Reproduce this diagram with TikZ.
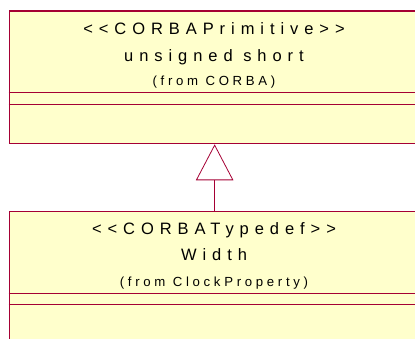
\documentclass[tikz,border=0pt]{standalone}
\usepackage{fontspec}
\setmainfont{Liberation Sans}[LetterSpace=36, Ligatures=TeXOff]
\usetikzlibrary{arrows.meta}

\definecolor{roseline}{HTML}{A50034}
\definecolor{rosefill}{HTML}{FFFFCC}

\tikzset{
  classbox/.style={draw=roseline, fill=rosefill, line width=1.3pt,
    rectangle, anchor=north west, minimum width=411pt, minimum height=132.5pt,
    inner sep=0pt},
  stereo/.style={anchor=base, inner sep=0pt, font=\fontsize{16.5}{18}\selectfont},
  pkg/.style={anchor=base, inner sep=0pt,
    font=\fontsize{13.2}{15}\selectfont\addfontfeature{LetterSpace=28}},
  compart/.style={draw=roseline, line width=0.8pt},
  inherit/.style={draw=roseline, line width=0.8pt,
    -{Triangle[open, length=36pt, width=37.5pt, line width=0.8pt]}}
}

\begin{document}
\begin{tikzpicture}[x=1pt, y=-1pt]
\useasboundingbox (0,0) rectangle (415,339);
\clip (0,0) rectangle (415,339);

% CORBA primitive
\node[classbox] (prim) at (8.5,10.5) {};
\node[stereo] (prim-st) at (214,34.5) {<<CORBAPrimitive>>};
\node[stereo] (prim-nm) at (214,61.5) {unsigned short};
\node[pkg] (prim-pk) at (214,86) {(from CORBA)};
\draw[compart] (8.5,92.5) -- ++(411,0);
\draw[compart] (8.5,104) -- ++(411,0);

% typedef
\node[classbox] (width) at (8.5,211) {};
\node[stereo] (width-st) at (214,235) {<<CORBATypedef>>};
\node[stereo] (width-nm) at (214,260) {Width};
\node[pkg] (width-pk) at (214,286.5) {(from ClockProperty)};
\draw[compart] (8.5,293) -- ++(411,0);
\draw[compart] (8.5,304.5) -- ++(411,0);

% generalization
\draw[inherit] (width.north) -- (prim.south);
\end{tikzpicture}
\end{document}
